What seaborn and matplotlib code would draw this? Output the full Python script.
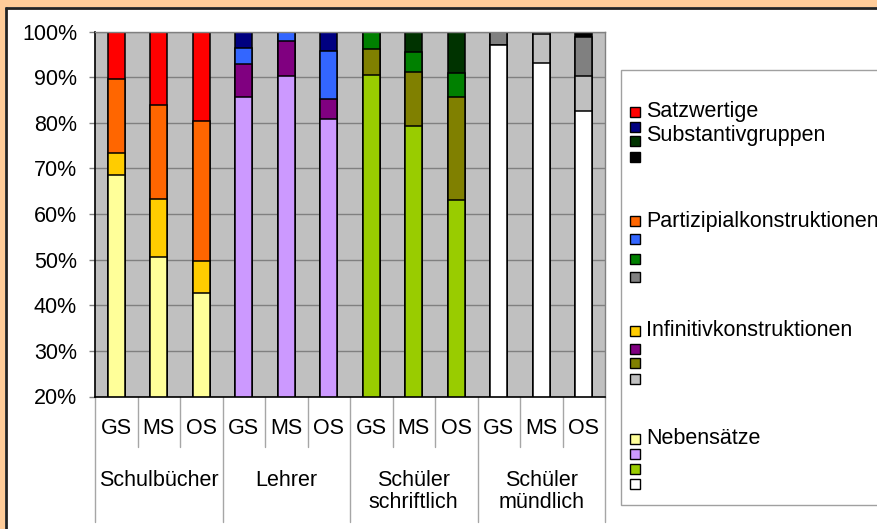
import matplotlib
matplotlib.use("Agg")
import matplotlib.pyplot as plt
import matplotlib.transforms as mtransforms
from matplotlib.patches import Rectangle
import seaborn as sns
import pandas as pd

# ---------------- data ----------------
groups = ["Schulbücher", "Lehrer", "Schüler\nschriftlich", "Schüler\nmündlich"]
levels = ["GS", "MS", "OS"]
categories = ["Nebensätze", "Infinitivkonstruktionen", "Partizipialkonstruktionen",
              "Satzwertige\nSubstantivgruppen"]
nebensaetze = [68.5, 50.5, 42.7, 85.6, 90.2, 80.8, 90.5, 79.2, 63.1, 97.0, 93.1, 82.5]
infinitiv = [4.9, 12.8, 6.9, 7.2, 7.8, 4.3, 5.7, 12.0, 22.5, 0.0, 6.3, 7.7]
partizip = [16.1, 20.7, 30.8, 3.5, 2.0, 10.6, 3.6, 4.4, 5.4, 3.0, 0.6, 8.6]
satzwertige = [10.5, 16.0, 19.6, 3.7, 0.0, 4.3, 0.2, 4.4, 9.0, 0.0, 0.0, 1.2]
yticks = [20, 30, 40, 50, 60, 70, 80, 90, 100]

# colours per category, one per group
col_neb = ["#FFFF99", "#CC99FF", "#99CC00", "#FFFFFF"]
col_inf = ["#FFCC00", "#800080", "#808000", "#C0C0C0"]
col_par = ["#FF6600", "#3366FF", "#008000", "#808080"]
col_sat = ["#FF0000", "#000080", "#003300", "#000000"]

FONT = "Liberation Sans"
FS = 15.5

sns.set_theme(style="white")
plt.rcParams["font.family"] = [FONT, "DejaVu Sans"]

W, H = 877, 529
fig = plt.figure(figsize=(W / 100, H / 100), dpi=100)
fig.patch.set_facecolor("#FFCC99")

# background axes in pixel coordinates
bg = fig.add_axes([0, 0, 1, 1], zorder=0)
bg.set_xlim(0, W)
bg.set_ylim(H, 0)
bg.axis("off")
bg.add_patch(Rectangle((5, 7), W, H, facecolor="white", edgecolor="none"))
bg.plot([5.5, 5.5], [7, H], color="#222222", lw=2, solid_capstyle="butt")
bg.plot([5, W], [7.5, 7.5], color="#222222", lw=2, solid_capstyle="butt")

# main plot axes
L, R, T, B = 95, 605, 31.5, 396.5
ax = fig.add_axes([L / W, (H - B) / H, (R - L) / W, (B - T) / H], zorder=1)
ax.set_facecolor("#C0C0C0")

bar_ids = [f"{g}|{lv}" for g in groups for lv in levels]
stack_layers = [
    ([a + b + c + d for a, b, c, d in zip(nebensaetze, infinitiv, partizip, satzwertige)], col_sat),
    ([a + b + c for a, b, c in zip(nebensaetze, infinitiv, partizip)], col_par),
    ([a + b for a, b in zip(nebensaetze, infinitiv)], col_inf),
    (list(nebensaetze), col_neb),
]
for cum, cols in stack_layers:
    df = pd.DataFrame({"bar": bar_ids, "value": cum})
    pal = {bid: cols[i // 3] for i, bid in enumerate(bar_ids)}
    sns.barplot(data=df, x="bar", y="value", hue="bar", palette=pal, order=bar_ids,
                hue_order=bar_ids, width=0.4, edgecolor="black", linewidth=1.1,
                legend=False, ax=ax, saturation=1)

ax.set_ylim(20, 100)
ax.set_xlim(-0.5, 11.5)
ax.set_yticks(yticks)
ax.set_yticklabels([f"{v}%" for v in yticks], fontsize=FS, family=[FONT])
ax.set_xticks([])
ax.set_xlabel("")
ax.set_ylabel("")
ax.set_axisbelow(True)
ax.yaxis.grid(True, color="#808080", lw=1)
ax.tick_params(axis="y", left=True, length=4.3, width=1, color="#808080", pad=8.6,
               labelcolor="black")
for s in ["top", "right"]:
    ax.spines[s].set_color("#808080")
    ax.spines[s].set_linewidth(1)
for s in ["left", "bottom"]:
    ax.spines[s].set_color("black")
    ax.spines[s].set_linewidth(1.2)

def ay(py):
    return (B - py) / (B - T)

trans = mtransforms.blended_transform_factory(ax.transData, ax.transAxes)
for i, bid in enumerate(bar_ids):
    ax.text(i, ay(429), levels[i % 3], transform=trans, ha="center", va="center",
            fontsize=FS, family=[FONT], color="black")
for gi, g in enumerate(groups):
    for li, line in enumerate(g.split("\n")):
        ax.text(gi * 3 + 1, ay(480 + 23 * li), line, transform=trans, ha="center",
                va="center", fontsize=FS, family=[FONT], color="black")
for k in range(13):
    x = k - 0.5
    yend = ay(522) if k % 3 == 0 else ay(447)
    ax.plot([x, x], [0, yend], transform=trans, clip_on=False, color="#A6A6A6", lw=1)

# legend (manual)
bg.add_patch(Rectangle((620.5, 69.5), 400, 435.5, facecolor="white", edgecolor="#A0A0A0", lw=1))
legend_text_y = [112, 221, 330.7, 439]
legend_square_y = [[112, 126.7, 141.3, 156.8], [221, 239, 259, 277],
                   [330.7, 348.7, 363.3, 378.7], [439, 454, 469, 484]]
legend_cols = [col_sat, col_par, col_inf, col_neb]
legend_labels = [categories[3], categories[2], categories[1], categories[0]]
for lab, ty, sq, cols in zip(legend_labels, legend_text_y, legend_square_y, legend_cols):
    for yy, c in zip(sq, cols):
        bg.add_patch(Rectangle((629.5, yy - 5), 10, 10, facecolor=c, edgecolor="black", lw=1))
    for li, line in enumerate(lab.split("\n")):
        bg.text(646, ty + 24 * li, line, ha="left", va="center", fontsize=FS,
                family=[FONT], color="black")

fig.savefig("out.png", dpi=100, facecolor=fig.get_facecolor())
